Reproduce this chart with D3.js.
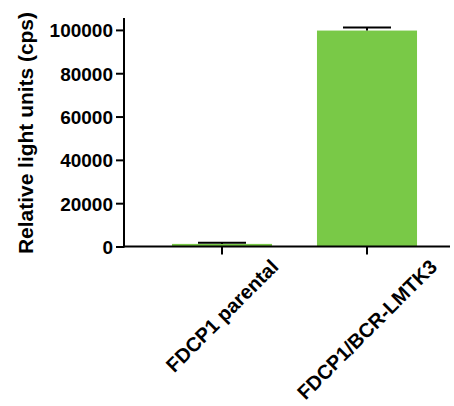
<!DOCTYPE html>
<html><head><meta charset="utf-8">
<script src="https://cdn.jsdelivr.net/npm/d3@7"></script>
<style>body{margin:0;background:#fff}svg{display:block}text{font-family:"Liberation Sans",Arial,sans-serif;font-weight:bold;fill:#000}</style>
</head><body>
<svg id="c" width="454" height="406"></svg>
<script>
const categories = ["FDCP1 parental", "FDCP1/BCR-LMTK3"];
const means = [1200, 99700];
const errors = [500, 1400];
const yTicks = [0, 20000, 40000, 60000, 80000, 100000];
const yTitle = "Relative light units (cps)";

const svg = d3.select("#c");
const green = "#79c947";
const y = d3.scaleLinear().domain([0, 105500]).range([246.5, 18]);
const x = d3.scaleBand().domain(categories).range([149.5, 439.5]).paddingInner(0.31).paddingOuter(0.155);

// bars
svg.selectAll("rect.bar").data(categories).join("rect")
  .attr("class", "bar")
  .attr("x", d => x(d)).attr("width", x.bandwidth())
  .attr("y", (d,i) => y(means[i])).attr("height", (d,i) => y(0) - y(means[i]))
  .attr("fill", green);

// error bars (upper)
const eb = svg.append("g").attr("stroke", "#000").attr("stroke-width", 2);
categories.forEach((c,i) => {
  const cx = x(c) + x.bandwidth()/2;
  eb.append("line").attr("x1", cx).attr("x2", cx).attr("y1", y(means[i])).attr("y2", y(means[i]+errors[i]));
  eb.append("line").attr("x1", cx-24).attr("x2", cx+24).attr("y1", y(means[i]+errors[i])).attr("y2", y(means[i]+errors[i]));
});

// y axis
const ya = svg.append("g").attr("transform", "translate(124,0)")
  .attr("font-size", 19).attr("font-family", "Liberation Sans, Arial, sans-serif")
  .call(d3.axisLeft(y).tickValues(yTicks).tickFormat(d3.format("d")).tickSize(8).tickPadding(3).tickSizeOuter(0));
ya.attr("font-size", 19).attr("font-family", "Liberation Sans, Arial, sans-serif");
ya.select(".domain").remove();
ya.append("line").attr("x1",0).attr("x2",0).attr("y1",y.range()[1]).attr("y2",y(0)+1).attr("stroke","#000").attr("stroke-width",2);
ya.selectAll(".tick line").attr("stroke-width", 2);
ya.selectAll(".tick text").attr("font-size", 19).attr("font-weight","bold").attr("dy","0.36em");

// x axis
const xa = svg.append("g").attr("transform", "translate(0,246.5)");
xa.append("line").attr("x1", 123).attr("x2", 450).attr("y1", 0).attr("y2", 0).attr("stroke", "#000").attr("stroke-width", 2);
categories.forEach(c => {
  const cx = x(c) + x.bandwidth()/2;
  xa.append("line").attr("x1", cx).attr("x2", cx).attr("y1", 0).attr("y2", 8).attr("stroke", "#000").attr("stroke-width", 2);
});

// x labels rotated, centered on tick
categories.forEach(c => {
  const cx = x(c) + x.bandwidth()/2;
  const t = svg.append("text").text(c).attr("font-size", 20).attr("text-anchor", "middle").attr("dy", "0.35em");
  const L = t.node().getComputedTextLength();
  const h = 14.5;
  const half = (L + h) * Math.SQRT1_2 / 2;
  const cy = 258 + half;
  t.attr("transform", `translate(${cx},${cy}) rotate(-45)`);
});

// y title
svg.append("text").text(yTitle).attr("font-size", 20).attr("text-anchor", "middle")
  .attr("textLength", 242).attr("lengthAdjust", "spacingAndGlyphs")
  .attr("transform", "translate(33,133) rotate(-90)");
</script>
</body></html>
